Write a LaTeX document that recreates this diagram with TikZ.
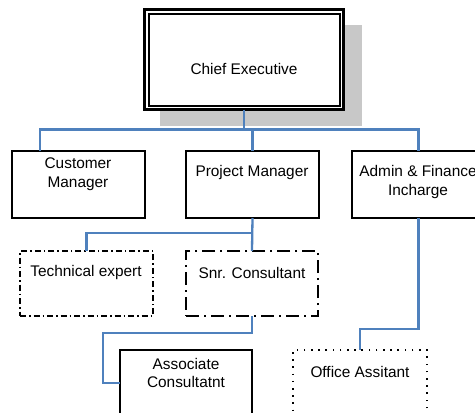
\documentclass[tikz,border=0pt]{standalone}
\usepackage{fontspec}
\setmainfont{Liberation Sans}
\usetikzlibrary{calc}
\definecolor{connblue}{HTML}{4F81BD}
\definecolor{shadegray}{HTML}{C8C8C8}
\begin{document}
\begin{tikzpicture}[x=1pt,y=-1pt,
  box/.style={draw=black, fill=white, inner sep=0pt, outer sep=0pt, anchor=north west},
  lbl/.style={font=\fontsize{15.4}{18.5}\selectfont, align=center, inner sep=0pt, anchor=center},
  link/.style={draw=connblue, line width=2.3pt},
  techdash/.style={line width=1.3pt, dash pattern=on 6pt off 3pt on 1.5pt off 3pt},
  snrdash/.style={line width=2.5pt, dash pattern=on 13pt off 5pt on 2pt off 5pt},
  dotline/.style={line width=1.6pt, dash pattern=on 1.6pt off 5.6pt}]
\clip (0,0) rectangle (475,413);
\fill[white] (0,0) rectangle (475,413);
% shadow and chief box
\node[box, draw=none, fill=shadegray, minimum width=202pt, minimum height=101pt] (ceS) at (160,25) {};
\node[box, line width=2.7pt, minimum width=199pt, minimum height=100.2pt] (ceO) at (144.7,9.3) {};
\node[box, line width=2pt, minimum width=190.2pt, minimum height=91.7pt] (ceI) at (149.3,13.8) {};
\node[lbl] (ceT) at (244,69) {Chief Executive};
% level 2
\node[box, line width=1.3pt, minimum width=133pt, minimum height=67pt] (cm) at (12,151) {};
\node[box, line width=2pt, minimum width=133pt, minimum height=67pt] (pm) at (186,151) {};
\node[box, line width=2pt, minimum width=133pt, minimum height=67pt] (af) at (352,151) {};
\node[lbl] (cmT) at (78,174) {Customer\\Manager};
\node[lbl] (pmT) at (252,173) {Project Manager};
\node[lbl] (afT) at (418,182) {Admin \& Finance\\Incharge};
% level 3
\node[box, techdash, minimum width=133pt, minimum height=65pt] (te) at (20,251) {};
\node[box, snrdash, minimum width=132pt, minimum height=65pt] (sc) at (186,251) {};
\node[lbl] (teT) at (86,273) {Technical expert};
\node[lbl] (scT) at (252,273) {Snr. Consultant};
% level 4
\node[box, line width=2pt, minimum width=132pt, minimum height=90pt] (ac) at (120,350) {};
\node[box, dotline, minimum width=134pt, minimum height=90pt] (oa) at (293,350) {};
\node[lbl] (acT) at (186,373) {Associate\\Consultatnt};
\node[lbl] (oaT) at (360,372) {Office Assitant};
% connector helpers
\coordinate (bus1) at (0,129.5);
\coordinate (bus2) at (0,233);
\coordinate (cmTop) at ($(cm.north west)+(28,0)$);
\coordinate (k1) at (103,333);
\coordinate (acIn) at ($(ac.north west)+(0,33)$);
\coordinate (k2) at (360,329);
% connectors
\draw[link] (ceO.south) -- (ceO.south |- bus1);
\draw[link] (cmTop) |- (bus1 -| af.north) -- (af.north);
\draw[link] (pm.north) -- (pm.north |- bus1);
\draw[link] (pm.south) -- (sc.north);
\draw[link] (te.north) |- (bus2 -| pm.south);
\draw[link] (sc.south) |- (k1) |- (acIn);
\draw[link] (af.south) |- (k2) -- (oa.north);
\end{tikzpicture}
\end{document}
